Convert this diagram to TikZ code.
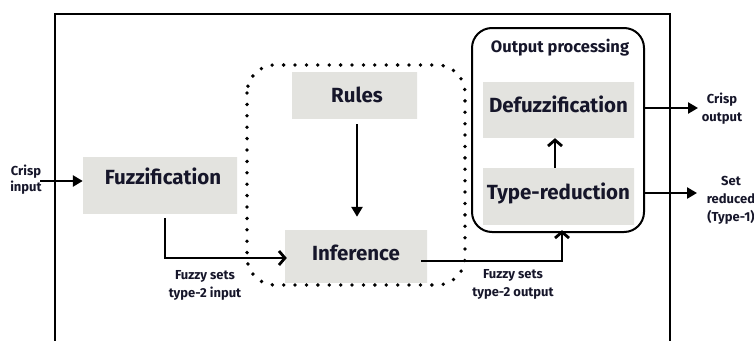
\documentclass[tikz,border=0pt]{standalone}
\usepackage{fontspec}
\setmainfont{Fira Sans}
\usetikzlibrary{arrows.meta}
\definecolor{boxg}{HTML}{E3E3DF}
\definecolor{shd}{HTML}{C6C6C2}
\definecolor{ink}{HTML}{16162A}
\pgfdeclareverticalshading{boxshade}{100bp}{color(0bp)=(shd);color(9bp)=(boxg);color(91bp)=(boxg);color(100bp)=(shd)}
\tikzset{
  gbox/.style={shading=boxshade, draw=none, inner sep=0pt},
  btext/.style={font=\bfseries\fontsize{20.5}{24}\selectfont, text=ink, inner sep=0pt},
  stext/.style={font=\bfseries\fontsize{13}{18}\selectfont, text=ink, align=center, inner sep=0pt},
  frame/.style={line width=2pt},
  farr/.style={line width=2.8pt, -{Triangle[length=10pt,width=11pt]}},
  carr/.style={line width=2.8pt, -{Straight Barb[length=6pt,width=14pt]}},
}
\begin{document}
\begin{tikzpicture}[x=1pt,y=-1pt]
\useasboundingbox (0,0) rectangle (754,340);

% outer system frame, open at the bottom
\draw[frame] (55,345) -- (55,14) -- (670,14) -- (670,345);

% inference engine group
\draw[line width=3.8pt, line cap=round, dash pattern=on 0pt off 11.4pt, rounded corners=28pt]
  (247,65) rectangle (465,285);

% output processing group
\draw[frame, rounded corners=20pt] (472,28) rectangle (644,232);
\node[font=\bfseries\fontsize{16.5}{18}\selectfont, text=ink, inner sep=0pt] (optitle) at (560,48) {Output processing};

% processing blocks
\node[gbox, minimum width=154pt, minimum height=56pt] (fuzz) at (160,185) {};
\node[btext] (fuzzt) at (163,176) {Fuzzification};

\node[gbox, minimum width=125pt, minimum height=46pt] (rules) at (354.5,95) {};
\node[btext] (rulest) at (357,95) {Rules};

\node[gbox, minimum width=142pt, minimum height=52pt] (infer) at (356,256) {};
\node[btext] (infert) at (356,253) {Inference};

\node[gbox, minimum width=151pt, minimum height=55pt] (defuzz) at (558.5,109.5) {};
\node[btext] (defuzzt) at (558.5,104) {Defuzzification};

\node[gbox, minimum width=151pt, minimum height=56pt] (tred) at (558.5,196) {};
\node[btext] (tredt) at (558.5,193) {Type-reduction};

% side labels
\node[stext, font=\bfseries\fontsize{13}{16}\selectfont] (cin) at (26,180) {Crisp\\input};
\node[stext] (fsin) at (205,285) {Fuzzy sets\\type-2 input};
\node[stext] (fsout) at (513,284) {Fuzzy sets\\type-2 output};
\node[stext] (cout) at (722,109) {Crisp\\output};
\node[stext] (sred) at (731,200) {Set\\reduced\\(Type-1)};

% connectors
\draw[farr] (40,181) -- ([yshift=4pt]fuzz.west);
\draw[carr] ([xshift=5pt,yshift=-5pt]fuzz.south) |- ([xshift=2pt,yshift=-2pt]infer.west);
\draw[farr, shorten <=6pt, shorten >=13pt] ([xshift=2.5pt]rules.south) -- ([xshift=1pt]infer.north);
\draw[carr] ([xshift=-6pt,yshift=-5pt]infer.east) -| ([xshift=3.5pt,yshift=-6pt]tred.south);
\draw[carr] ([xshift=-3.5pt]tred.north) -- ([xshift=-3.5pt,yshift=-1pt]defuzz.south);
\draw[farr] (defuzz.east -| 644,0) ++(0,-1.5) -- (698,108);
\draw[farr] ([yshift=3pt]tred.east -| 644,0) -- (697,193);
\end{tikzpicture}
\end{document}
